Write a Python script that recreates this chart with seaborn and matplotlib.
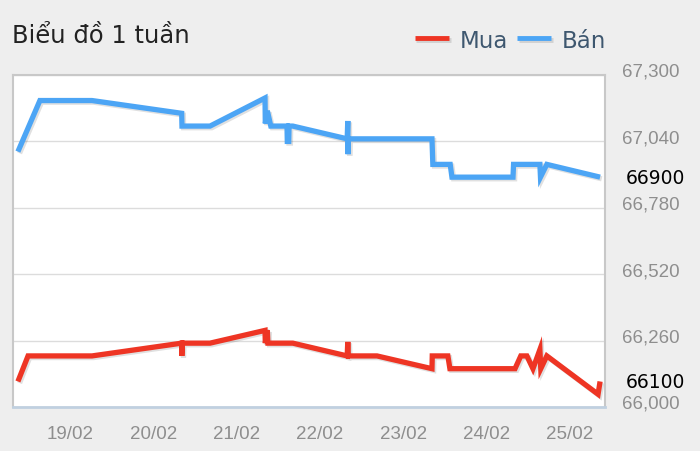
import pandas as pd
import seaborn as sns
import matplotlib.pyplot as plt
import matplotlib.dates as mdates
import matplotlib.patheffects as pe
from matplotlib import transforms

# Giá bán (Bán)
ban_time = ["02-18 09:00", "02-18 15:20", "02-19 06:20", "02-20 08:10", "02-20 08:15",
            "02-20 16:20", "02-21 08:10", "02-21 08:15", "02-21 08:50", "02-21 09:50",
            "02-21 14:30", "02-21 14:35", "02-21 15:00", "02-21 15:05", "02-21 16:10",
            "02-22 07:50", "02-22 08:00", "02-22 08:05", "02-22 08:10", "02-23 08:15",
            "02-23 08:30", "02-23 13:30", "02-23 14:00", "02-24 07:35", "02-24 07:45",
            "02-24 15:20", "02-24 15:30", "02-24 17:20", "02-25 08:40"]
ban_value = [67000, 67200, 67200, 67150, 67100,
             67100, 67210, 67110, 67160, 67100,
             67100, 67040, 67040, 67100, 67100,
             67050, 67120, 66990, 67050, 67050,
             66950, 66950, 66900, 66900, 66950,
             66950, 66900, 66950, 66900]

# Giá mua (Mua)
mua_time = ["02-18 09:00", "02-18 11:55", "02-19 06:20", "02-20 08:10", "02-20 08:12",
            "02-20 08:20", "02-20 16:20", "02-21 08:10", "02-21 08:15", "02-21 08:50",
            "02-21 09:00", "02-21 16:10", "02-22 07:50", "02-22 08:00", "02-22 08:10",
            "02-22 16:25", "02-23 08:15", "02-23 08:20", "02-23 12:50", "02-23 13:25",
            "02-24 08:10", "02-24 09:50", "02-24 11:35", "02-24 13:20", "02-24 15:20",
            "02-24 15:35", "02-24 17:20", "02-25 08:05", "02-25 08:40"]
mua_value = [66100, 66200, 66200, 66250, 66200,
             66250, 66250, 66300, 66250, 66300,
             66250, 66250, 66200, 66255, 66200,
             66200, 66150, 66200, 66200, 66150,
             66150, 66200, 66200, 66150, 66225,
             66150, 66200, 66050, 66100]

y_ticks = [66000, 66260, 66520, 66780, 67040, 67300]
last_labels = {"Mua": 66100, "Bán": 66900}
colors = {"Mua": "#ee3524", "Bán": "#4ca5f5"}

YEAR = "2025-"
df = pd.concat([
    pd.DataFrame({"time": pd.to_datetime([YEAR + t for t in mua_time]), "price": mua_value, "series": "Mua"}),
    pd.DataFrame({"time": pd.to_datetime([YEAR + t for t in ban_time]), "price": ban_value, "series": "Bán"}),
])

sns.set_style("white")
plt.rcParams["font.family"] = ["DejaVu Sans"]

fig = plt.figure(figsize=(7, 4.52), dpi=100, facecolor="#eeeeee")
ax = fig.add_axes([13 / 700, 1 - 408 / 452, 592 / 700, 332 / 452])
ax.set_facecolor("white")

sns.lineplot(data=df, x="time", y="price", hue="series", hue_order=["Mua", "Bán"],
             palette=colors, linewidth=3.8, estimator=None, sort=False, ax=ax)

for line in ax.lines:
    line.set_solid_joinstyle("miter")
    line.set_solid_capstyle("butt")
    line.set_path_effects([pe.SimpleLineShadow(offset=(1.2, -1.2), alpha=0.12, shadow_color="black"),
                           pe.Normal()])

ax.set_xlim(pd.Timestamp("2025-02-18 07:35"), pd.Timestamp("2025-02-25 10:05"))
ax.set_ylim(66000, 67300)
ax.set_xlabel("")
ax.set_ylabel("")

# x axis
ax.xaxis.set_major_locator(mdates.DayLocator())
ax.xaxis.set_major_formatter(mdates.DateFormatter("%d/%m"))
ax.tick_params(axis="x", length=9, width=1, color="#c0d0e0", direction="out",
               pad=4, labelsize=13.5, labelcolor="#8e8e8e")
for lab in ax.get_xticklabels():
    lab.set_fontfamily("Liberation Sans")

# y axis on the right
ax.yaxis.tick_right()
ax.set_yticks(y_ticks)
ax.set_yticklabels([f"{v:,}" for v in y_ticks])
ax.tick_params(axis="y", length=0, pad=12, labelsize=13.5, labelcolor="#8e8e8e")
shift = transforms.ScaledTranslation(0, 5.5 / 100, fig.dpi_scale_trans)
for lab in ax.get_yticklabels():
    lab.set_fontfamily("Liberation Sans")
    lab.set_transform(lab.get_transform() + shift)
ax.grid(axis="y", color="#dcdcdc", linewidth=1)
ax.grid(axis="x", visible=False)

for side in ["left", "top", "right"]:
    ax.spines[side].set_color("#c8c8c8")
    ax.spines[side].set_linewidth(1.5)
ax.spines["bottom"].set_color("#c0d0e0")
ax.spines["bottom"].set_linewidth(2)

# current values
blend = transforms.blended_transform_factory(ax.transAxes, ax.transData)
for name, val in last_labels.items():
    ax.text(1 + 21 / 592, val, str(val), transform=blend, va="center", ha="left",
            fontsize=13.5, color="black")

# title and legend
fig.text(12 / 700, 1 - 36 / 452, "Biểu đồ 1 tuần", fontsize=17.5, color="#222222",
         va="center", ha="left")

handles, labels = ax.get_legend_handles_labels()
ax.get_legend().remove()
leg = fig.legend(handles, labels, loc="center right", bbox_to_anchor=(606 / 700, 1 - 41 / 452),
                 ncol=2, frameon=False, fontsize=16.5, labelcolor="#3e576f",
                 handlelength=1.5, handletextpad=0.45, columnspacing=0.4,
                 borderpad=0, borderaxespad=0)
for line in leg.get_lines():
    line.set_linewidth(3.5)
    line.set_solid_capstyle("butt")

fig.savefig("out.png", dpi=100, facecolor=fig.get_facecolor())
